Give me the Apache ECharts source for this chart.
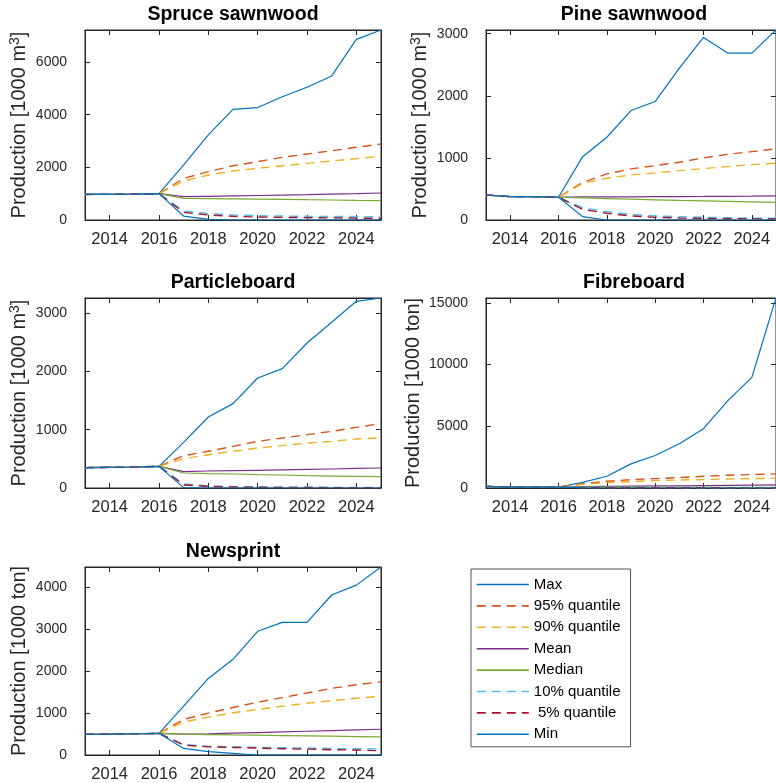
<!DOCTYPE html>
<html><head><meta charset="utf-8">
<script src="https://cdn.jsdelivr.net/npm/echarts@6/dist/echarts.min.js"></script>
<style>html,body{margin:0;padding:0;background:#fff}#c{width:776px;height:783px}</style>
</head><body><div id="c"></div>
<script>
// ---------- data ----------
const years = [2013, 2014, 2015, 2016, 2017, 2018, 2019, 2020, 2021, 2022, 2023, 2024, 2025];
const xTicks = [2014, 2016, 2018, 2020, 2022, 2024];
const statNames = ['Max', '95% quantile', '90% quantile', 'Mean', 'Median', '10% quantile', ' 5% quantile', 'Min'];

// Spruce sawnwood (historical 2013-2016, then forecast 2017-2025)
const spruceHist   = [970, 975, 980, 1000];
const spruceMax    = [2090, 3230, 4200, 4270, 4680, 5040, 5470, 6860, 7215];
const spruceQ95    = [1580, 1835, 2060, 2215, 2380, 2505, 2630, 2760, 2885];
const spruceQ90    = [1480, 1710, 1860, 1960, 2060, 2150, 2240, 2330, 2420];
const spruceMean   = [885, 900, 915, 930, 945, 960, 980, 1000, 1025];
const spruceMedian = [820, 815, 805, 795, 785, 770, 760, 745, 735];
const spruceQ10    = [340, 250, 190, 165, 150, 140, 135, 130, 125];
const spruceQ5     = [290, 190, 140, 115, 100, 90, 80, 70, 65];
const spruceMin    = [150, 25, 0, 0, 0, 0, 0, 0, 0];
const spruceYTicks = [0, 2000, 4000, 6000];

// Pine sawnwood
const pineHist   = [403, 376, 376, 366];
const pineMax    = [1020, 1333, 1763, 1908, 2446, 2940, 2688, 2688, 3060];
const pineQ95    = [605, 742, 823, 876, 930, 1000, 1059, 1102, 1145];
const pineQ90    = [590, 672, 726, 758, 796, 828, 860, 892, 914];
const pineMean   = [372, 372, 373, 375, 377, 379, 382, 385, 390];
const pineMedian = [355, 345, 335, 325, 315, 308, 300, 292, 285];
const pineQ10    = [199, 134, 91, 65, 54, 43, 38, 30, 27];
const pineQ5     = [172, 108, 65, 43, 32, 25, 20, 18, 16];
const pineMin    = [54, 0, 0, 0, 0, 0, 0, 0, 0];
const pineYTicks = [0, 1000, 2000, 3000];

// Particleboard
const partHist   = [349, 355, 360, 371];
const partMax    = [783, 1217, 1446, 1886, 2046, 2486, 2840, 3200, 3257];
const partQ95    = [554, 629, 714, 800, 857, 914, 971, 1040, 1103];
const partQ90    = [503, 571, 629, 686, 726, 771, 800, 840, 860];
const partMean   = [280, 291, 297, 303, 310, 318, 326, 335, 343];
const partMedian = [257, 246, 240, 229, 223, 211, 205, 200, 194];
const partQ10    = [69, 34, 23, 17, 15, 13, 12, 11, 11];
const partQ5     = [51, 29, 17, 12, 10, 8, 7, 6, 6];
const partMin    = [6, 0, 0, 0, 0, 0, 0, 0, 0];
const partYTicks = [0, 1000, 2000, 3000];

// Fibreboard
const fibreHist   = [130, 75, 70, 70];
const fibreMax    = [462, 951, 1957, 2636, 3587, 4810, 7065, 8967, 15400];
const fibreQ95    = [353, 543, 680, 761, 842, 951, 1033, 1087, 1141];
const fibreQ90    = [299, 435, 516, 598, 652, 680, 734, 761, 788];
const fibreMean   = [110, 130, 150, 165, 180, 195, 210, 230, 250];
const fibreMedian = [68, 66, 64, 62, 60, 58, 56, 54, 52];
const fibreQ10    = [45, 38, 33, 30, 27, 25, 23, 21, 20];
const fibreQ5     = [35, 28, 23, 20, 18, 16, 14, 12, 11];
const fibreMin    = [15, 0, 0, 0, 0, 0, 0, 0, 0];
const fibreYTicks = [0, 5000, 10000, 15000];

// Newsprint
const newsHist   = [490, 495, 505, 515];
const newsMax    = [1161, 1820, 2275, 2941, 3153, 3153, 3804, 4039, 4470];
const newsQ95    = [847, 996, 1129, 1255, 1365, 1475, 1584, 1671, 1741];
const newsQ90    = [784, 902, 1004, 1082, 1161, 1231, 1294, 1349, 1396];
const newsMean   = [494, 502, 518, 533, 549, 565, 580, 596, 612];
const newsMedian = [494, 486, 478, 471, 463, 455, 447, 439, 430];
const newsQ10    = [251, 204, 196, 180, 173, 165, 157, 149, 145];
const newsQ5     = [235, 196, 180, 165, 149, 141, 125, 118, 102];
const newsMin    = [157, 78, 39, 0, 0, 0, 0, 0, 0];
const newsYTicks = [0, 1000, 2000, 3000, 4000];

// ---------- styling / layout ----------
const FONT = 'Liberation Sans, Arial, Helvetica, sans-serif';
const AX = '#262626';
const colors = ['#0072BD', '#D95319', '#EDB120', '#7E2F8E', '#77AC30', '#4DBEEE', '#A2142F', '#0072BD'];
const dashed = [false, true, true, false, false, true, true, false];

const panels = [
  {title: 'Spruce sawnwood', unit: 'm3', left: 85, top: 30, hist: spruceHist,
   stats: [spruceMax, spruceQ95, spruceQ90, spruceMean, spruceMedian, spruceQ10, spruceQ5, spruceMin], yTicks: spruceYTicks},
  {title: 'Pine sawnwood', unit: 'm3', left: 486, top: 30, hist: pineHist,
   stats: [pineMax, pineQ95, pineQ90, pineMean, pineMedian, pineQ10, pineQ5, pineMin], yTicks: pineYTicks},
  {title: 'Particleboard', unit: 'm3', left: 85, top: 298, hist: partHist,
   stats: [partMax, partQ95, partQ90, partMean, partMedian, partQ10, partQ5, partMin], yTicks: partYTicks},
  {title: 'Fibreboard', unit: 'ton', left: 486, top: 298, hist: fibreHist,
   stats: [fibreMax, fibreQ95, fibreQ90, fibreMean, fibreMedian, fibreQ10, fibreQ5, fibreMin], yTicks: fibreYTicks},
  {title: 'Newsprint', unit: 'ton', left: 85, top: 567, hist: newsHist,
   stats: [newsMax, newsQ95, newsQ90, newsMean, newsMedian, newsQ10, newsQ5, newsMin], yTicks: newsYTicks}
];
const GW = 296, GH = 190;
const plain = v => String(v);

const grids = [], xAxes = [], yAxes = [], series = [], graphics = [];
panels.forEach((p, i) => {
  grids.push({left: p.left, top: p.top, width: GW, height: GH, show: true,
    borderColor: AX, borderWidth: 1, backgroundColor: 'transparent', containLabel: false});
  const full = p.stats.map(s => p.hist.concat(s));
  const yMax = Math.max(...full.map(a => Math.max(...a)));
  const tickCommon = {show: true, inside: true, length: 5, lineStyle: {color: AX, width: 1}};
  xAxes.push({gridIndex: i, type: 'value', position: 'bottom', min: 2013, max: 2025,
    axisLine: {show: true, onZero: false, lineStyle: {color: AX, width: 1}},
    axisTick: Object.assign({customValues: xTicks}, tickCommon),
    axisLabel: {customValues: xTicks, formatter: plain, margin: 11, fontSize: 16.5, fontFamily: FONT, color: AX},
    splitLine: {show: false}});
  xAxes.push({gridIndex: i, type: 'value', position: 'top', min: 2013, max: 2025,
    axisLine: {show: true, onZero: false, lineStyle: {color: AX, width: 1}},
    axisTick: Object.assign({customValues: xTicks}, tickCommon),
    axisLabel: {show: false}, splitLine: {show: false}});
  const name = p.unit === 'm3' ? 'Production [1000 m{sup|3}]' : 'Production [1000 ton]';
  yAxes.push({gridIndex: i, type: 'value', position: 'left', min: 0, max: yMax,
    name: name, nameLocation: 'middle', nameGap: 33,
    nameTextStyle: {fontSize: 20, fontFamily: FONT, color: AX, lineHeight: 24,
      rich: {sup: {fontSize: 14, fontFamily: FONT, color: AX, verticalAlign: 'top', lineHeight: 14}}},
    axisLine: {show: true, onZero: false, lineStyle: {color: AX, width: 1}},
    axisTick: Object.assign({customValues: p.yTicks}, tickCommon),
    axisLabel: {customValues: p.yTicks, formatter: plain, margin: 18, fontSize: 14, fontFamily: FONT, color: AX},
    splitLine: {show: false}});
  yAxes.push({gridIndex: i, type: 'value', position: 'right', min: 0, max: yMax,
    axisLine: {show: true, onZero: false, lineStyle: {color: AX, width: 1}},
    axisTick: Object.assign({customValues: p.yTicks}, tickCommon),
    axisLabel: {show: false}, splitLine: {show: false}});
  full.forEach((vals, j) => {
    series.push({
      type: 'line', name: statNames[j], xAxisIndex: 2 * i, yAxisIndex: 2 * i,
      data: years.map((y, k) => [y, vals[k]]),
      symbol: 'none', showSymbol: false, animation: false, silent: true,
      color: colors[j],
      lineStyle: {color: colors[j], width: dashed[j] ? 1.4 : 1.2, type: dashed[j] ? [9, 6] : 'solid'},
      z: 2 + j
    });
  });
  graphics.push({type: 'text', x: p.left + GW / 2, y: p.top - 15, silent: true,
    style: {text: p.title, font: 'bold 19.5px ' + FONT, fill: '#000', align: 'center', verticalAlign: 'middle'}});
});

const chart = echarts.init(document.getElementById('c'), null, {renderer: 'canvas'});
chart.setOption({
  backgroundColor: '#fff',
  animation: false,
  grid: grids,
  xAxis: xAxes,
  yAxis: yAxes,
  series: series,
  graphic: graphics,
  legend: {
    data: statNames, orient: 'vertical', left: 471, top: 569,
    itemWidth: 52, itemHeight: 15, itemGap: 6.4,
    padding: [8, 10, 5, 5],
    borderColor: '#555', borderWidth: 1, backgroundColor: '#fff',
    selectedMode: false,
    itemStyle: {opacity: 0},
    lineStyle: {width: 1.6},
    textStyle: {fontSize: 15, fontFamily: FONT, color: '#000', lineHeight: 15}
  }
});
</script></body></html>
